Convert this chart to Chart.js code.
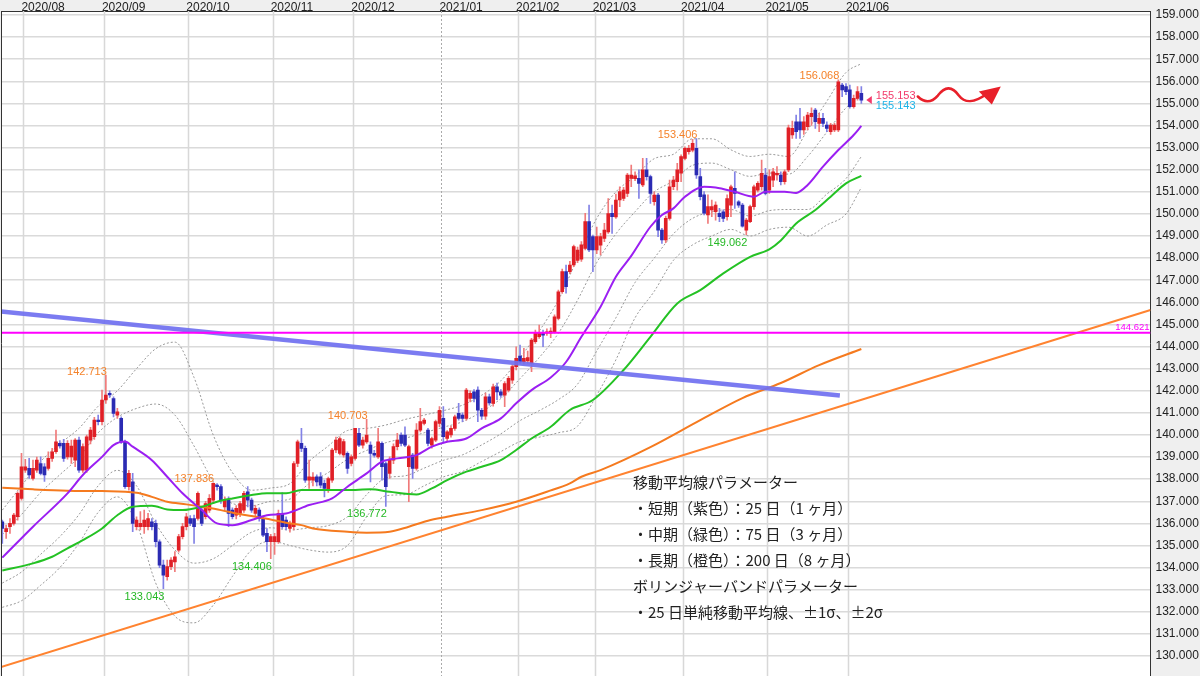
<!DOCTYPE html>
<html>
<head>
<meta charset="utf-8">
<script src="https://cdn.jsdelivr.net/npm/chart.js@4.4.0/dist/chart.umd.min.js"></script>
<style>
html, body { margin: 0; padding: 0; background: #efefef; }
#wrap { width: 1200px; height: 676px; }
</style>
</head>
<body>
<div id="wrap"><canvas id="chart"></canvas></div>
<script>
// 月ラベル (各月の最初のローソク足の番号)
const monthLabels = ['2020/08','2020/09','2020/10','2020/11','2020/12','2021/01','2021/02','2021/03','2021/04','2021/05','2021/06'];
const monthStart = [6, 27, 49, 71, 92, 115, 135, 155, 178, 200, 221];
const yTickValues = [130,131,132,133,134,135,136,137,138,139,140,141,142,143,144,145,146,147,148,149,150,151,152,153,154,155,156,157,158,159];

// 日足 (2020/07/24 〜 2021/06/04)
const opens = [136.07,135.62,135.85,136.00,136.30,137.13,138.41,138.49,138.03,138.41,
138.71,138.56,138.49,138.94,139.24,139.62,139.62,139.01,139.01,138.86,
139.77,138.41,138.41,139.77,139.92,140.67,140.60,141.58,141.88,141.65,
140.90,140.75,139.69,137.66,137.88,135.85,135.85,135.85,135.85,136.07,
136.00,135.17,134.11,133.59,134.04,134.26,134.79,135.40,135.85,136.22,
136.22,136.22,136.60,136.30,136.60,137.05,137.73,137.66,136.75,137.05,
136.60,136.37,136.45,136.60,137.43,137.05,136.45,136.60,136.22,135.55,
135.17,135.17,135.17,136.45,136.15,135.77,135.85,138.71,139.62,139.39,
137.96,137.96,138.11,138.11,137.81,137.51,137.96,139.32,139.17,139.10,
139.17,138.71,138.94,140.07,139.54,139.69,139.54,139.17,139.01,139.62,
138.71,138.26,138.86,139.47,139.99,139.99,138.56,139.09,138.49,140.22,
140.52,140.22,139.54,139.77,140.52,140.75,139.84,140.00,140.30,140.98,
140.90,140.75,141.65,141.95,142.03,141.12,140.85,141.73,141.43,142.18,
141.95,141.80,142.03,142.48,143.09,143.57,143.31,143.35,143.24,144.22,
144.45,144.60,144.60,144.60,144.67,145.27,146.48,147.39,147.39,147.69,
147.90,147.95,148.44,149.65,148.97,148.37,148.59,148.89,149.19,150.03,
149.87,150.63,150.70,150.93,151.61,151.60,151.61,151.31,151.99,151.69,
150.55,150.85,149.27,148.82,149.80,151.23,151.46,151.84,152.51,152.82,
152.89,152.97,151.69,150.86,149.95,150.18,150.10,150.03,150.10,149.88,
150.40,151.16,150.55,150.40,149.27,149.65,150.33,151.08,151.23,151.76,
151.08,151.53,151.76,151.76,151.46,151.99,153.57,154.17,154.17,153.80,
153.95,154.40,154.70,154.10,154.32,154.02,153.72,153.80,153.80,155.83,
155.76,155.61,154.85,155.23,155.46];
const highs = [136.15,135.92,136.22,136.45,137.43,139.17,138.90,138.94,138.86,139.00,
139.01,138.70,139.24,139.40,140.22,139.75,139.80,139.75,139.77,139.84,
139.90,139.60,140.00,140.35,140.80,140.90,142.03,142.713,142.00,141.73,
141.20,140.82,139.77,138.40,138.26,136.30,136.53,136.60,136.45,136.22,
136.15,135.25,134.34,134.34,134.45,134.72,135.50,136.00,136.45,136.35,
136.37,137.43,136.75,137.00,137.30,137.836,137.80,137.75,137.20,137.20,
136.70,136.80,137.00,137.45,137.66,137.15,136.80,136.70,136.30,135.77,
135.50,135.55,136.60,137.39,136.30,136.10,138.80,139.77,140.30,139.50,
138.86,138.30,138.20,138.30,137.96,138.10,139.40,139.90,139.92,139.80,
139.24,139.10,140.30,140.30,139.90,140.703,139.69,139.30,140.30,139.69,
138.79,139.01,139.60,140.07,140.10,140.37,139.54,139.17,140.52,141.20,
140.75,140.30,139.90,140.67,141.28,141.28,140.20,140.40,140.90,141.43,
141.00,142.11,142.00,142.05,142.18,141.20,141.90,141.85,142.30,142.35,
142.05,142.41,142.65,143.16,143.99,144.07,143.92,143.80,144.37,144.75,
144.97,144.75,144.80,144.85,145.43,146.56,147.50,147.69,147.85,148.59,
148.50,148.75,150.03,150.40,149.04,149.40,149.12,149.57,150.70,150.40,
150.90,151.23,151.20,151.84,152.21,151.90,151.99,152.51,152.51,151.76,
151.00,150.93,149.35,149.90,151.53,151.70,152.29,152.67,153.04,153.10,
153.38,153.406,152.06,151.01,150.86,150.63,150.55,150.25,150.18,150.86,
151.31,151.91,150.60,150.48,149.80,150.40,151.30,151.46,152.44,152.06,
151.99,152.06,152.14,151.91,152.00,154.02,154.20,154.47,154.78,154.40,
154.60,154.80,154.78,154.55,154.55,154.17,154.10,154.10,156.068,155.91,
155.90,155.83,155.38,155.76,155.76];
const lows = [135.09,135.32,135.55,135.92,136.15,137.05,138.30,138.03,137.96,138.30,
138.19,137.90,138.41,138.80,139.17,139.40,138.80,138.90,138.71,138.56,
138.30,138.30,138.30,139.60,139.80,140.45,140.45,141.43,141.70,140.82,
140.75,139.62,137.58,137.50,135.62,135.70,135.70,135.55,135.70,135.70,
134.94,134.00,133.043,133.43,133.90,133.81,134.70,135.30,135.70,135.90,
135.09,136.15,135.90,136.20,136.50,136.90,137.50,136.90,136.60,135.85,
136.20,136.20,136.30,136.50,136.75,136.50,136.35,136.10,135.40,134.72,
134.406,134.60,135.09,135.77,135.70,135.60,135.70,138.56,139.24,137.85,
137.58,137.70,137.70,137.60,137.20,137.40,137.85,139.20,139.10,139.00,
138.26,138.60,138.86,139.47,139.40,139.62,137.88,139.00,138.94,137.96,
136.772,138.03,138.70,139.32,139.50,139.47,136.98,138.03,138.41,140.14,
140.45,139.50,139.40,139.70,140.37,139.69,139.70,139.90,140.20,140.67,
140.60,140.67,141.50,141.50,140.60,140.70,140.70,141.35,141.30,141.60,
141.70,141.28,141.95,142.33,142.94,143.24,143.20,143.24,142.86,144.14,
144.37,143.99,144.50,144.40,144.60,145.20,146.40,146.41,147.30,147.61,
147.80,147.85,148.37,148.29,147.39,148.20,148.14,148.74,149.12,149.12,
149.80,150.33,150.60,150.78,151.23,151.50,150.70,151.23,151.53,150.48,
150.40,148.97,148.67,148.70,149.72,151.10,151.08,151.46,152.44,152.70,
152.80,151.61,150.63,149.95,149.57,149.88,149.72,149.65,149.65,149.72,
149.88,150.25,150.30,149.40,149.062,149.60,150.20,151.00,151.08,150.86,
150.93,151.23,151.53,151.31,151.35,151.91,153.42,153.42,153.42,153.60,
153.80,154.00,153.87,153.72,153.95,153.72,153.60,153.72,153.72,155.30,
155.40,154.78,154.78,155.15,155.00];
const closes = [135.77,135.77,136.00,136.37,137.36,138.56,138.56,138.19,138.49,138.86,
138.26,138.19,138.94,139.24,139.69,139.50,138.94,139.62,139.50,139.77,
138.41,139.47,139.92,140.22,140.67,140.60,141.58,141.81,141.81,140.98,
141.05,139.69,137.66,138.26,136.00,136.15,136.00,136.15,136.22,135.85,
135.17,134.11,133.66,134.04,134.34,134.49,135.40,135.85,136.30,136.00,
135.85,137.36,136.00,136.90,137.13,137.81,137.66,137.05,137.05,136.45,
136.30,136.68,136.90,137.36,137.05,136.60,136.68,136.22,135.47,135.17,
135.40,135.40,136.45,135.85,135.85,136.00,138.71,139.69,139.39,137.96,
138.11,138.10,137.88,137.73,137.58,138.03,139.32,139.77,139.84,139.70,
138.49,139.01,140.30,139.54,139.77,139.99,139.17,139.09,139.69,138.56,
137.66,138.86,139.47,139.77,139.62,139.54,139.47,138.49,140.22,140.60,
140.67,139.62,139.84,140.60,141.12,139.92,140.14,140.30,140.82,140.75,
140.75,142.03,141.88,141.65,141.12,140.85,141.73,141.45,142.18,141.95,
141.80,142.33,142.56,143.09,143.47,143.31,143.47,143.50,144.29,144.60,
144.60,144.52,144.67,144.70,145.35,146.48,147.39,146.71,147.69,148.52,
148.37,148.60,149.65,148.37,148.37,148.97,148.97,149.27,150.02,149.88,
150.63,151.01,151.08,151.76,151.76,151.72,151.38,151.99,151.69,150.93,
150.85,149.27,148.82,149.80,151.23,151.53,151.99,152.59,152.97,152.97,
153.19,151.76,150.78,150.03,150.33,150.33,150.40,149.88,149.80,150.70,
151.23,150.93,150.40,149.45,149.72,150.33,151.23,151.38,151.84,150.93,
151.69,151.91,151.84,151.46,151.91,153.90,153.87,153.72,153.80,154.17,
154.47,154.55,154.17,154.32,154.10,153.87,154.02,154.02,155.98,155.61,
155.53,154.85,155.23,155.53,155.15];

// 移動平均線 (チャートから読み取り)
const ma25Idx = [0,8,17,21,26,29,32,34,39,43,47,52,56,60,65,69,74,80,86,90,95,99,103,108,112,116,121,125,130,134,138,143,147,151,156,160,164,169,172,175,178,183,186,191,196,199,204,207,210,214,218,222,224];
const ma25 = [134.45,135.85,137.36,138.19,139.01,139.54,139.70,139.47,138.86,138.11,137.36,136.60,136.00,135.92,136.15,136.37,136.45,136.83,137.13,137.66,138.26,138.79,138.94,139.09,139.47,139.69,139.84,140.30,140.75,141.43,142.03,142.60,143.30,144.44,145.80,147.16,148.10,149.42,149.95,150.25,150.78,151.23,151.20,151.00,150.78,151.00,151.00,150.95,151.31,152.14,152.89,153.57,153.98];
const ma75Idx = [0,8,13,17,21,26,30,34,39,43,47,52,56,60,65,69,74,78,81,90,96,101,108,112,116,121,125,130,134,138,143,148,154,162,169,176,182,188,195,200,203,207,212,216,220,224];
const ma75 = [133.87,134.19,134.49,134.87,135.24,135.77,136.37,136.75,136.80,136.63,136.60,136.75,136.98,137.13,137.28,137.36,137.36,137.51,137.51,137.51,137.54,137.43,137.31,137.58,137.96,138.34,138.56,138.86,139.32,139.84,140.37,141.13,141.58,142.94,144.44,145.95,146.55,147.31,148.06,148.40,148.80,149.57,150.18,150.78,151.38,151.72];
const ma200Idx = [0,8,17,26,35,39,43,48,52,57,61,65,70,74,78,81,90,95,101,106,111,116,125,134,142,148,151,156,169,182,193,203,213,224];
const ma200 = [137.61,137.54,137.48,137.46,137.39,137.20,136.98,136.86,136.75,136.60,136.45,136.33,136.18,136.03,135.92,135.77,135.62,135.58,135.62,135.85,136.12,136.30,136.60,136.98,137.43,137.81,138.11,138.41,139.45,140.67,141.67,142.35,143.16,143.89];

// ボリンジャーバンド
const bandIdx = [0,5,10,15,20,25,30,35,40,45,50,55,60,65,70,75,80,85,90,95,100,105,110,115,120,125,130,135,140,145,150,155,160,165,170,175,180,185,190,195,200,205,210,215,220,224];
const bandUp2 = [136.6,137.7,138.8,139.6,140.3,141.3,142.0,143.0,143.9,144.2,142.6,140.0,138.3,137.5,137.6,137.8,138.8,139.5,140.2,140.3,140.45,140.7,140.9,141.1,141.35,141.8,142.45,143.5,144.7,146.1,148.0,149.8,151.0,151.7,152.5,152.7,153.4,153.4,152.9,152.6,152.7,152.6,153.8,155.1,156.4,156.8];
const bandUp1 = [135.5,136.4,137.4,138.2,139.0,140.1,140.8,141.2,141.4,140.9,139.5,137.9,136.9,136.8,137.0,137.1,137.8,138.3,138.9,139.3,139.65,139.85,140.1,140.35,140.6,141.05,141.65,142.55,143.5,144.6,146.1,147.8,149.1,150.1,151.0,151.5,152.2,152.3,152.0,151.7,151.85,151.8,152.6,153.7,154.8,155.4];
const bandLo1 = [133.3,133.8,134.6,135.4,136.4,137.7,138.4,137.7,136.0,134.8,134.2,134.4,135.0,135.6,135.8,135.7,135.8,135.9,136.3,137.3,138.05,138.15,138.5,138.85,139.1,139.55,140.05,140.65,141.1,141.6,142.3,143.8,145.3,146.9,148.0,149.1,149.8,150.1,150.2,149.9,150.15,150.2,150.2,150.9,151.6,152.6];
const bandLo2 = [132.2,132.5,133.2,134.0,135.1,136.5,137.2,136.0,133.3,131.8,131.5,132.3,133.6,134.8,135.2,135.0,134.8,134.7,135.0,136.3,137.25,137.3,137.7,138.1,138.35,138.8,139.25,139.7,139.9,140.1,140.4,141.8,143.4,145.3,146.5,147.9,148.6,149.0,149.3,149.0,149.3,149.4,149.0,149.5,150.0,151.2];

// トレンドライン・水平線
const blueLineIdx = [-0.34, 218.4];
const blueLineVal = [145.59, 141.79];
const orangeLineIdx = [-0.34, 299.4];
const orangeLineVal = [129.50, 145.65];
const hLineIdx = [-0.34, 299.4];
const hLineVal = [144.621, 144.621];

// 高値・安値ラベル
const peakIdx = [27, 55, 95, 181, 218];
const troughIdx = [42, 70, 100, 194];
const bidPrice = 155.153;
const askPrice = 155.143;

const noteLines = [
  '移動平均線パラメーター',
  '・短期（紫色）：25 日（1 ヶ月）',
  '・中期（緑色）：75 日（3 ヶ月）',
  '・長期（橙色）：200 日（8 ヶ月）',
  'ボリンジャーバンドパラメーター',
  '・25 日単純移動平均線、±1σ、±2σ'
];

const RED = '#e01f26', BLUE = '#2b2bb3';
const RED_WICK = '#f07a7a', BLUE_WICK = '#8282e6';
const isUp = k => closes[k] >= opens[k];
const pts = (xs, ys) => xs.map((x, i) => ({x: x, y: ys[i]}));

const lineDs = (data, color, width, order, extra) => Object.assign({
  type: 'line', data: data, borderColor: color, borderWidth: width,
  pointRadius: 0, fill: false, order: order, cubicInterpolationMode: 'monotone'
}, extra || {});

const overlay = {
  id: 'overlay',
  beforeDraw(chart) {
    const {ctx, chartArea: a} = chart;
    ctx.save();
    ctx.fillStyle = '#efefef';
    ctx.fillRect(0, 0, chart.width, chart.height);
    ctx.fillStyle = '#ffffff';
    ctx.fillRect(a.left, a.top, a.right - a.left, a.bottom - a.top);
    ctx.restore();
  },
  beforeDatasetsDraw(chart) {
    const {ctx, chartArea: a, scales: {x}} = chart;
    ctx.save();
    monthStart.forEach((k, i) => {
      const px = Math.round(x.getPixelForValue(k - 0.5)) + 0.5;
      ctx.beginPath();
      if (monthLabels[i] === '2021/01') {
        ctx.setLineDash([2, 2]); ctx.strokeStyle = '#aaaaaa'; ctx.lineWidth = 1;
      } else {
        ctx.setLineDash([]); ctx.strokeStyle = '#d8d8d8'; ctx.lineWidth = 1.5;
      }
      ctx.moveTo(px, a.top); ctx.lineTo(px, a.bottom); ctx.stroke();
    });
    ctx.restore();
  },
  afterDraw(chart) {
    const {ctx, chartArea: a, scales: {x, y}} = chart;
    ctx.save();
    // 左枠
    ctx.strokeStyle = '#333'; ctx.lineWidth = 1;
    ctx.beginPath(); ctx.moveTo(a.left + 0.5, a.top); ctx.lineTo(a.left + 0.5, a.bottom); ctx.stroke();

    // 月ラベル
    ctx.font = '12px "Liberation Sans", Arial, sans-serif';
    ctx.fillStyle = '#222'; ctx.textAlign = 'left'; ctx.textBaseline = 'alphabetic';
    monthStart.forEach((k, i) => {
      ctx.fillText(monthLabels[i], x.getPixelForValue(k - 0.5) - 2, 10.5);
    });

    // 高値・安値
    ctx.font = '11px "Liberation Sans", Arial, sans-serif';
    ctx.textAlign = 'right'; ctx.textBaseline = 'middle';
    ctx.fillStyle = '#f5822a';
    peakIdx.forEach(k => ctx.fillText(highs[k].toFixed(3), x.getPixelForValue(k) + 1, y.getPixelForValue(highs[k]) - 3.5));
    ctx.fillStyle = '#24b824';
    troughIdx.forEach(k => ctx.fillText(lows[k].toFixed(3), x.getPixelForValue(k) + 1, y.getPixelForValue(lows[k]) + 8));

    // 現在値
    const lastX = x.getPixelForValue(opens.length - 1);
    const py = y.getPixelForValue(bidPrice);
    ctx.fillStyle = '#f23a6a';
    ctx.beginPath();
    ctx.moveTo(lastX + 5, py); ctx.lineTo(lastX + 10.5, py - 4); ctx.lineTo(lastX + 10.5, py + 4); ctx.closePath(); ctx.fill();
    ctx.textAlign = 'left';
    ctx.fillText(bidPrice.toFixed(3), lastX + 14.5, py - 4);
    ctx.fillStyle = '#1cb4e8';
    ctx.fillText(askPrice.toFixed(3), lastX + 14.5, py + 6);

    // 144.621
    ctx.font = '9.5px "Liberation Sans", Arial, sans-serif';
    ctx.fillStyle = '#ff00ff'; ctx.textAlign = 'right';
    ctx.fillText(hLineVal[0].toFixed(3), a.right - 1, y.getPixelForValue(hLineVal[0]) - 5);

    // 波線の矢印
    const sx = lastX + 56.5, sy = py - 3.5;
    ctx.strokeStyle = '#e8202a'; ctx.fillStyle = '#e8202a';
    ctx.lineWidth = 2.6; ctx.lineCap = 'round';
    ctx.beginPath();
    ctx.moveTo(sx, sy);
    ctx.bezierCurveTo(sx + 6, sy + 6, sx + 13, sy + 7, sx + 20, sy - 1);
    ctx.bezierCurveTo(sx + 27, sy - 10, sx + 34, sy - 11, sx + 41, sy - 1);
    ctx.bezierCurveTo(sx + 47, sy + 7, sx + 57, sy + 6, sx + 68, sy - 2);
    ctx.stroke();
    ctx.beginPath();
    ctx.moveTo(sx + 83, sy - 10);
    ctx.lineTo(sx + 61, sy - 5);
    ctx.lineTo(sx + 74, sy + 8);
    ctx.closePath(); ctx.fill();

    // 説明文
    ctx.font = '15px "Noto Sans CJK JP", sans-serif';
    ctx.fillStyle = '#222'; ctx.textAlign = 'left'; ctx.textBaseline = 'middle';
    noteLines.forEach((t, i) => ctx.fillText(t, 633, 482 + i * 26));
    ctx.restore();
  }
};

const candleIdx = opens.map((_, i) => i);

new Chart(document.getElementById('chart'), {
  type: 'bar',
  data: {
    datasets: [
      lineDs(pts(hLineIdx, hLineVal), '#ff00ff', 2, 0, {cubicInterpolationMode: 'default'}),
      lineDs(pts(blueLineIdx, blueLineVal), 'rgba(112,112,240,0.92)', 4.5, 1, {cubicInterpolationMode: 'default'}),
      lineDs(pts(orangeLineIdx, orangeLineVal), '#ff8330', 2, 2, {cubicInterpolationMode: 'default'}),
      lineDs(pts(ma25Idx, ma25), '#9b1ff2', 2, 3),
      lineDs(pts(ma75Idx, ma75), '#24c224', 2, 3),
      lineDs(pts(ma200Idx, ma200), '#f57a1f', 2, 3),
      {
        type: 'bar', order: 4, grouped: false, barThickness: 3, minBarLength: 1,
        data: candleIdx.map(k => ({x: k, y: [opens[k], closes[k]]})),
        backgroundColor: c => isUp(c.dataIndex) ? RED : BLUE, borderWidth: 0
      },
      {
        type: 'bar', order: 5, grouped: false, barThickness: 1,
        data: candleIdx.map(k => ({x: k, y: [lows[k], highs[k]]})),
        backgroundColor: c => isUp(c.dataIndex) ? RED_WICK : BLUE_WICK, borderWidth: 0
      },
      lineDs(pts(bandIdx, bandUp2), '#9a9a9a', 1, 6, {borderDash: [2, 2]}),
      lineDs(pts(bandIdx, bandUp1), '#9a9a9a', 1, 6, {borderDash: [2, 2]}),
      lineDs(pts(bandIdx, bandLo1), '#9a9a9a', 1, 6, {borderDash: [2, 2]}),
      lineDs(pts(bandIdx, bandLo2), '#9a9a9a', 1, 6, {borderDash: [2, 2]})
    ]
  },
  options: {
    responsive: true,
    maintainAspectRatio: false,
    animation: false,
    events: [],
    layout: { padding: { left: 1, top: 0, right: 0, bottom: 0 } },
    plugins: { legend: { display: false }, tooltip: { enabled: false } },
    scales: {
      x: {
        type: 'linear', position: 'top', min: -0.34, max: 299.4, offset: false,
        ticks: { display: false },
        grid: { display: false },
        border: { display: true, color: '#333', width: 1 },
        afterFit: s => { s.height = 11; s.paddingLeft = 0; s.paddingRight = 0; }
      },
      y: {
        type: 'linear', position: 'right', min: 129.095, max: 159.181,
        afterBuildTicks: s => { s.ticks = yTickValues.map(v => ({value: v})); },
        ticks: {
          callback: v => v.toFixed(3), color: '#222', padding: 5,
          font: { family: '"Liberation Sans", Arial, sans-serif', size: 12 }
        },
        grid: { color: '#dadada', lineWidth: 1.5, drawTicks: false },
        border: { display: true, color: '#333', width: 1 },
        afterFit: s => { s.width = 49.5; s.paddingTop = 0; s.paddingBottom = 0; }
      }
    }
  },
  plugins: [overlay]
});
</script>
</body>
</html>
